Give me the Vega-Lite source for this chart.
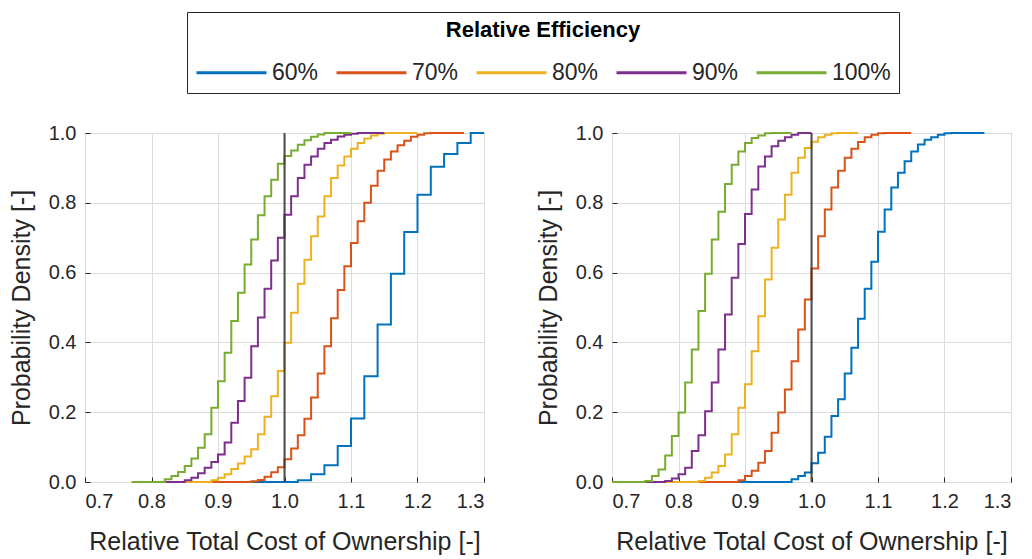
{
"$schema": "https://vega.github.io/schema/vega-lite/v6.json",
"autosize": {"type": "none"},
"padding": {"left": 85, "top": 133, "right": 947, "bottom": 426},
"data": {"values": [
{"p":"L","s":"60%","x":0.94,"y":0},{"p":"L","s":"60%","x":1.02,"y":0.005},{"p":"L","s":"60%","x":1.04,"y":0.022},{"p":"L","s":"60%","x":1.06,"y":0.048},{"p":"L","s":"60%","x":1.08,"y":0.103},{"p":"L","s":"60%","x":1.10,"y":0.182},{"p":"L","s":"60%","x":1.12,"y":0.303},{"p":"L","s":"60%","x":1.14,"y":0.451},{"p":"L","s":"60%","x":1.16,"y":0.597},{"p":"L","s":"60%","x":1.18,"y":0.716},{"p":"L","s":"60%","x":1.20,"y":0.823},{"p":"L","s":"60%","x":1.22,"y":0.903},{"p":"L","s":"60%","x":1.24,"y":0.940},{"p":"L","s":"60%","x":1.26,"y":0.971},{"p":"L","s":"60%","x":1.28,"y":1.0},{"p":"L","s":"60%","x":1.30,"y":1.0},
{"p":"L","s":"70%","x":0.88,"y":0},{"p":"L","s":"70%","x":0.95,"y":0.002},{"p":"L","s":"70%","x":0.96,"y":0.006},{"p":"L","s":"70%","x":0.97,"y":0.015},{"p":"L","s":"70%","x":0.98,"y":0.028},{"p":"L","s":"70%","x":0.99,"y":0.042},{"p":"L","s":"70%","x":1.00,"y":0.065},{"p":"L","s":"70%","x":1.01,"y":0.096},{"p":"L","s":"70%","x":1.02,"y":0.134},{"p":"L","s":"70%","x":1.03,"y":0.181},{"p":"L","s":"70%","x":1.04,"y":0.242},{"p":"L","s":"70%","x":1.05,"y":0.311},{"p":"L","s":"70%","x":1.06,"y":0.389},{"p":"L","s":"70%","x":1.07,"y":0.469},{"p":"L","s":"70%","x":1.08,"y":0.550},{"p":"L","s":"70%","x":1.09,"y":0.618},{"p":"L","s":"70%","x":1.10,"y":0.685},{"p":"L","s":"70%","x":1.11,"y":0.747},{"p":"L","s":"70%","x":1.12,"y":0.800},{"p":"L","s":"70%","x":1.13,"y":0.849},{"p":"L","s":"70%","x":1.14,"y":0.892},{"p":"L","s":"70%","x":1.15,"y":0.924},{"p":"L","s":"70%","x":1.16,"y":0.947},{"p":"L","s":"70%","x":1.17,"y":0.965},{"p":"L","s":"70%","x":1.18,"y":0.978},{"p":"L","s":"70%","x":1.19,"y":0.989},{"p":"L","s":"70%","x":1.20,"y":0.995},{"p":"L","s":"70%","x":1.21,"y":0.999},{"p":"L","s":"70%","x":1.22,"y":1.0},{"p":"L","s":"70%","x":1.27,"y":1.0},
{"p":"L","s":"80%","x":0.84,"y":0},{"p":"L","s":"80%","x":0.89,"y":0.005},{"p":"L","s":"80%","x":0.90,"y":0.0125},{"p":"L","s":"80%","x":0.91,"y":0.022},{"p":"L","s":"80%","x":0.92,"y":0.037},{"p":"L","s":"80%","x":0.93,"y":0.053},{"p":"L","s":"80%","x":0.94,"y":0.073},{"p":"L","s":"80%","x":0.95,"y":0.094},{"p":"L","s":"80%","x":0.96,"y":0.137},{"p":"L","s":"80%","x":0.97,"y":0.187},{"p":"L","s":"80%","x":0.98,"y":0.246},{"p":"L","s":"80%","x":0.99,"y":0.318},{"p":"L","s":"80%","x":1.00,"y":0.399},{"p":"L","s":"80%","x":1.01,"y":0.485},{"p":"L","s":"80%","x":1.02,"y":0.568},{"p":"L","s":"80%","x":1.03,"y":0.637},{"p":"L","s":"80%","x":1.04,"y":0.704},{"p":"L","s":"80%","x":1.05,"y":0.761},{"p":"L","s":"80%","x":1.06,"y":0.819},{"p":"L","s":"80%","x":1.07,"y":0.871},{"p":"L","s":"80%","x":1.08,"y":0.907},{"p":"L","s":"80%","x":1.09,"y":0.933},{"p":"L","s":"80%","x":1.10,"y":0.955},{"p":"L","s":"80%","x":1.11,"y":0.971},{"p":"L","s":"80%","x":1.12,"y":0.984},{"p":"L","s":"80%","x":1.13,"y":0.993},{"p":"L","s":"80%","x":1.14,"y":0.998},{"p":"L","s":"80%","x":1.15,"y":1.0},{"p":"L","s":"80%","x":1.20,"y":1.0},
{"p":"L","s":"90%","x":0.80,"y":0},{"p":"L","s":"90%","x":0.85,"y":0.005},{"p":"L","s":"90%","x":0.86,"y":0.0125},{"p":"L","s":"90%","x":0.87,"y":0.025},{"p":"L","s":"90%","x":0.88,"y":0.041},{"p":"L","s":"90%","x":0.89,"y":0.057},{"p":"L","s":"90%","x":0.90,"y":0.079},{"p":"L","s":"90%","x":0.91,"y":0.113},{"p":"L","s":"90%","x":0.92,"y":0.170},{"p":"L","s":"90%","x":0.93,"y":0.232},{"p":"L","s":"90%","x":0.94,"y":0.299},{"p":"L","s":"90%","x":0.95,"y":0.389},{"p":"L","s":"90%","x":0.96,"y":0.471},{"p":"L","s":"90%","x":0.97,"y":0.554},{"p":"L","s":"90%","x":0.98,"y":0.635},{"p":"L","s":"90%","x":0.99,"y":0.700},{"p":"L","s":"90%","x":1.00,"y":0.766},{"p":"L","s":"90%","x":1.01,"y":0.819},{"p":"L","s":"90%","x":1.02,"y":0.871},{"p":"L","s":"90%","x":1.03,"y":0.909},{"p":"L","s":"90%","x":1.04,"y":0.933},{"p":"L","s":"90%","x":1.05,"y":0.955},{"p":"L","s":"90%","x":1.06,"y":0.971},{"p":"L","s":"90%","x":1.07,"y":0.981},{"p":"L","s":"90%","x":1.08,"y":0.990},{"p":"L","s":"90%","x":1.09,"y":0.995},{"p":"L","s":"90%","x":1.10,"y":0.998},{"p":"L","s":"90%","x":1.11,"y":1.0},{"p":"L","s":"90%","x":1.15,"y":1.0},
{"p":"L","s":"100%","x":0.77,"y":0},{"p":"L","s":"100%","x":0.82,"y":0.008},{"p":"L","s":"100%","x":0.83,"y":0.017},{"p":"L","s":"100%","x":0.84,"y":0.029},{"p":"L","s":"100%","x":0.85,"y":0.046},{"p":"L","s":"100%","x":0.86,"y":0.067},{"p":"L","s":"100%","x":0.87,"y":0.098},{"p":"L","s":"100%","x":0.88,"y":0.137},{"p":"L","s":"100%","x":0.89,"y":0.213},{"p":"L","s":"100%","x":0.90,"y":0.289},{"p":"L","s":"100%","x":0.91,"y":0.370},{"p":"L","s":"100%","x":0.92,"y":0.461},{"p":"L","s":"100%","x":0.93,"y":0.542},{"p":"L","s":"100%","x":0.94,"y":0.623},{"p":"L","s":"100%","x":0.95,"y":0.695},{"p":"L","s":"100%","x":0.96,"y":0.764},{"p":"L","s":"100%","x":0.97,"y":0.819},{"p":"L","s":"100%","x":0.98,"y":0.866},{"p":"L","s":"100%","x":0.99,"y":0.912},{"p":"L","s":"100%","x":1.00,"y":0.934},{"p":"L","s":"100%","x":1.01,"y":0.950},{"p":"L","s":"100%","x":1.02,"y":0.966},{"p":"L","s":"100%","x":1.03,"y":0.979},{"p":"L","s":"100%","x":1.04,"y":0.989},{"p":"L","s":"100%","x":1.05,"y":0.996},{"p":"L","s":"100%","x":1.06,"y":1.0},{"p":"L","s":"100%","x":1.10,"y":1.0},
{"p":"R","s":"60%","x":0.88,"y":0},{"p":"R","s":"60%","x":0.97,"y":0.008},{"p":"R","s":"60%","x":0.98,"y":0.017},{"p":"R","s":"60%","x":0.99,"y":0.027},{"p":"R","s":"60%","x":1.00,"y":0.054},{"p":"R","s":"60%","x":1.01,"y":0.084},{"p":"R","s":"60%","x":1.02,"y":0.130},{"p":"R","s":"60%","x":1.03,"y":0.189},{"p":"R","s":"60%","x":1.04,"y":0.237},{"p":"R","s":"60%","x":1.05,"y":0.311},{"p":"R","s":"60%","x":1.06,"y":0.385},{"p":"R","s":"60%","x":1.07,"y":0.468},{"p":"R","s":"60%","x":1.08,"y":0.554},{"p":"R","s":"60%","x":1.09,"y":0.631},{"p":"R","s":"60%","x":1.10,"y":0.717},{"p":"R","s":"60%","x":1.11,"y":0.781},{"p":"R","s":"60%","x":1.12,"y":0.844},{"p":"R","s":"60%","x":1.13,"y":0.886},{"p":"R","s":"60%","x":1.14,"y":0.919},{"p":"R","s":"60%","x":1.15,"y":0.947},{"p":"R","s":"60%","x":1.16,"y":0.967},{"p":"R","s":"60%","x":1.17,"y":0.981},{"p":"R","s":"60%","x":1.18,"y":0.988},{"p":"R","s":"60%","x":1.19,"y":0.995},{"p":"R","s":"60%","x":1.20,"y":0.999},{"p":"R","s":"60%","x":1.21,"y":1.0},{"p":"R","s":"60%","x":1.26,"y":1.0},
{"p":"R","s":"70%","x":0.82,"y":0},{"p":"R","s":"70%","x":0.89,"y":0.005},{"p":"R","s":"70%","x":0.90,"y":0.017},{"p":"R","s":"70%","x":0.91,"y":0.032},{"p":"R","s":"70%","x":0.92,"y":0.055},{"p":"R","s":"70%","x":0.93,"y":0.089},{"p":"R","s":"70%","x":0.94,"y":0.141},{"p":"R","s":"70%","x":0.95,"y":0.199},{"p":"R","s":"70%","x":0.96,"y":0.265},{"p":"R","s":"70%","x":0.97,"y":0.346},{"p":"R","s":"70%","x":0.98,"y":0.437},{"p":"R","s":"70%","x":0.99,"y":0.523},{"p":"R","s":"70%","x":1.00,"y":0.612},{"p":"R","s":"70%","x":1.01,"y":0.704},{"p":"R","s":"70%","x":1.02,"y":0.781},{"p":"R","s":"70%","x":1.03,"y":0.844},{"p":"R","s":"70%","x":1.04,"y":0.892},{"p":"R","s":"70%","x":1.05,"y":0.929},{"p":"R","s":"70%","x":1.06,"y":0.955},{"p":"R","s":"70%","x":1.07,"y":0.974},{"p":"R","s":"70%","x":1.08,"y":0.988},{"p":"R","s":"70%","x":1.09,"y":0.995},{"p":"R","s":"70%","x":1.10,"y":0.999},{"p":"R","s":"70%","x":1.11,"y":1.0},{"p":"R","s":"70%","x":1.15,"y":1.0},
{"p":"R","s":"80%","x":0.78,"y":0},{"p":"R","s":"80%","x":0.83,"y":0.003},{"p":"R","s":"80%","x":0.84,"y":0.0125},{"p":"R","s":"80%","x":0.85,"y":0.027},{"p":"R","s":"80%","x":0.86,"y":0.046},{"p":"R","s":"80%","x":0.87,"y":0.079},{"p":"R","s":"80%","x":0.88,"y":0.137},{"p":"R","s":"80%","x":0.89,"y":0.213},{"p":"R","s":"80%","x":0.90,"y":0.280},{"p":"R","s":"80%","x":0.91,"y":0.375},{"p":"R","s":"80%","x":0.92,"y":0.475},{"p":"R","s":"80%","x":0.93,"y":0.580},{"p":"R","s":"80%","x":0.94,"y":0.671},{"p":"R","s":"80%","x":0.95,"y":0.752},{"p":"R","s":"80%","x":0.96,"y":0.823},{"p":"R","s":"80%","x":0.97,"y":0.886},{"p":"R","s":"80%","x":0.98,"y":0.929},{"p":"R","s":"80%","x":0.99,"y":0.957},{"p":"R","s":"80%","x":1.00,"y":0.975},{"p":"R","s":"80%","x":1.01,"y":0.988},{"p":"R","s":"80%","x":1.02,"y":0.995},{"p":"R","s":"80%","x":1.03,"y":0.999},{"p":"R","s":"80%","x":1.04,"y":1.0},{"p":"R","s":"80%","x":1.07,"y":1.0},
{"p":"R","s":"90%","x":0.72,"y":0},{"p":"R","s":"90%","x":0.78,"y":0.003},{"p":"R","s":"90%","x":0.79,"y":0.010},{"p":"R","s":"90%","x":0.80,"y":0.022},{"p":"R","s":"90%","x":0.81,"y":0.041},{"p":"R","s":"90%","x":0.82,"y":0.089},{"p":"R","s":"90%","x":0.83,"y":0.134},{"p":"R","s":"90%","x":0.84,"y":0.203},{"p":"R","s":"90%","x":0.85,"y":0.285},{"p":"R","s":"90%","x":0.86,"y":0.380},{"p":"R","s":"90%","x":0.87,"y":0.480},{"p":"R","s":"90%","x":0.88,"y":0.585},{"p":"R","s":"90%","x":0.89,"y":0.682},{"p":"R","s":"90%","x":0.90,"y":0.768},{"p":"R","s":"90%","x":0.91,"y":0.838},{"p":"R","s":"90%","x":0.92,"y":0.904},{"p":"R","s":"90%","x":0.93,"y":0.933},{"p":"R","s":"90%","x":0.94,"y":0.962},{"p":"R","s":"90%","x":0.95,"y":0.978},{"p":"R","s":"90%","x":0.96,"y":0.988},{"p":"R","s":"90%","x":0.97,"y":0.995},{"p":"R","s":"90%","x":0.98,"y":1.0},{"p":"R","s":"90%","x":1.00,"y":1.0},
{"p":"R","s":"100%","x":0.70,"y":0},{"p":"R","s":"100%","x":0.75,"y":0.003},{"p":"R","s":"100%","x":0.76,"y":0.017},{"p":"R","s":"100%","x":0.77,"y":0.036},{"p":"R","s":"100%","x":0.78,"y":0.076},{"p":"R","s":"100%","x":0.79,"y":0.132},{"p":"R","s":"100%","x":0.80,"y":0.199},{"p":"R","s":"100%","x":0.81,"y":0.285},{"p":"R","s":"100%","x":0.82,"y":0.380},{"p":"R","s":"100%","x":0.83,"y":0.490},{"p":"R","s":"100%","x":0.84,"y":0.597},{"p":"R","s":"100%","x":0.85,"y":0.695},{"p":"R","s":"100%","x":0.86,"y":0.774},{"p":"R","s":"100%","x":0.87,"y":0.854},{"p":"R","s":"100%","x":0.88,"y":0.909},{"p":"R","s":"100%","x":0.89,"y":0.947},{"p":"R","s":"100%","x":0.90,"y":0.971},{"p":"R","s":"100%","x":0.91,"y":0.986},{"p":"R","s":"100%","x":0.92,"y":0.993},{"p":"R","s":"100%","x":0.93,"y":0.999},{"p":"R","s":"100%","x":0.94,"y":1.0},{"p":"R","s":"100%","x":0.97,"y":1.0}
]},
"spacing": 128,
"bounds": "flush",
"hconcat": [
 {"width": 399, "height": 349,
  "layer": [
   {"transform": [{"filter": "datum.p === 'L'"}],
    "mark": {"type": "line", "interpolate": "step-after", "strokeWidth": 2},
    "encoding": {
     "x": {"field": "x", "type": "quantitative", "scale": {"domain": [0.7, 1.3], "nice": false, "zero": false}, "axis": {"values": [0.7,0.8,0.9,1.0,1.1,1.2,1.3], "format": ".1f", "title": "Relative Total Cost of Ownership [-]"}},
     "y": {"field": "y", "type": "quantitative", "scale": {"domain": [0, 1], "nice": false}, "axis": {"values": [0,0.2,0.4,0.6,0.8,1.0], "format": ".1f", "title": "Probability Density [-]"}},
     "color": {"field": "s", "type": "nominal", "scale": {"domain": ["60%","70%","80%","90%","100%"], "range": ["#0072BD","#D95319","#EDB120","#7E2F8E","#77AC30"]}, "legend": {"title": "Relative Efficiency"}}
    }},
   {"data": {"values": [{"v": 1.0}]},
    "mark": {"type": "rule", "color": "#333333", "strokeWidth": 2, "opacity": 0.85},
    "encoding": {"x": {"field": "v", "type": "quantitative"}}}
  ]},
 {"width": 399, "height": 349,
  "layer": [
   {"transform": [{"filter": "datum.p === 'R'"}],
    "mark": {"type": "line", "interpolate": "step-after", "strokeWidth": 2},
    "encoding": {
     "x": {"field": "x", "type": "quantitative", "scale": {"domain": [0.7, 1.3], "nice": false, "zero": false}, "axis": {"values": [0.7,0.8,0.9,1.0,1.1,1.2,1.3], "format": ".1f", "title": "Relative Total Cost of Ownership [-]"}},
     "y": {"field": "y", "type": "quantitative", "scale": {"domain": [0, 1], "nice": false}, "axis": {"values": [0,0.2,0.4,0.6,0.8,1.0], "format": ".1f", "title": "Probability Density [-]"}},
     "color": {"field": "s", "type": "nominal", "scale": {"domain": ["60%","70%","80%","90%","100%"], "range": ["#0072BD","#D95319","#EDB120","#7E2F8E","#77AC30"]}, "legend": {"title": "Relative Efficiency"}}
    }},
   {"data": {"values": [{"v": 1.0}]},
    "mark": {"type": "rule", "color": "#333333", "strokeWidth": 2, "opacity": 0.85},
    "encoding": {"x": {"field": "v", "type": "quantitative"}}}
  ]}
],
"config": {
 "font": "Liberation Sans",
 "view": {"stroke": "#262626", "strokeWidth": 1},
 "axis": {"gridColor": "#dcdcdc", "gridWidth": 1, "domain": false, "tickColor": "#262626", "tickSize": -5, "labelFontSize": 20, "labelColor": "#262626", "titleFontSize": 25, "titleFontWeight": "normal", "titleColor": "#262626", "labelPadding": 14},
 "axisX": {"titlePadding": 18},
 "axisY": {"titlePadding": 14},
 "legend": {
  "orient": "none", "legendX": 102, "legendY": -121, "direction": "horizontal",
  "titleAnchor": "middle", "titleFontSize": 22, "titleFontWeight": "bold", "titleColor": "#000000", "titlePadding": 19, "titleLimit": 1000,
  "labelFontSize": 23, "labelColor": "#262626", "labelOffset": 29,
  "symbolType": "M-3.5,0H3.5", "symbolSize": 400, "symbolOffset": 25, "symbolStrokeWidth": 3,
  "columnPadding": 11, "padding": 8, "strokeColor": "#262626", "fillColor": "#ffffff"
 }
}
}
